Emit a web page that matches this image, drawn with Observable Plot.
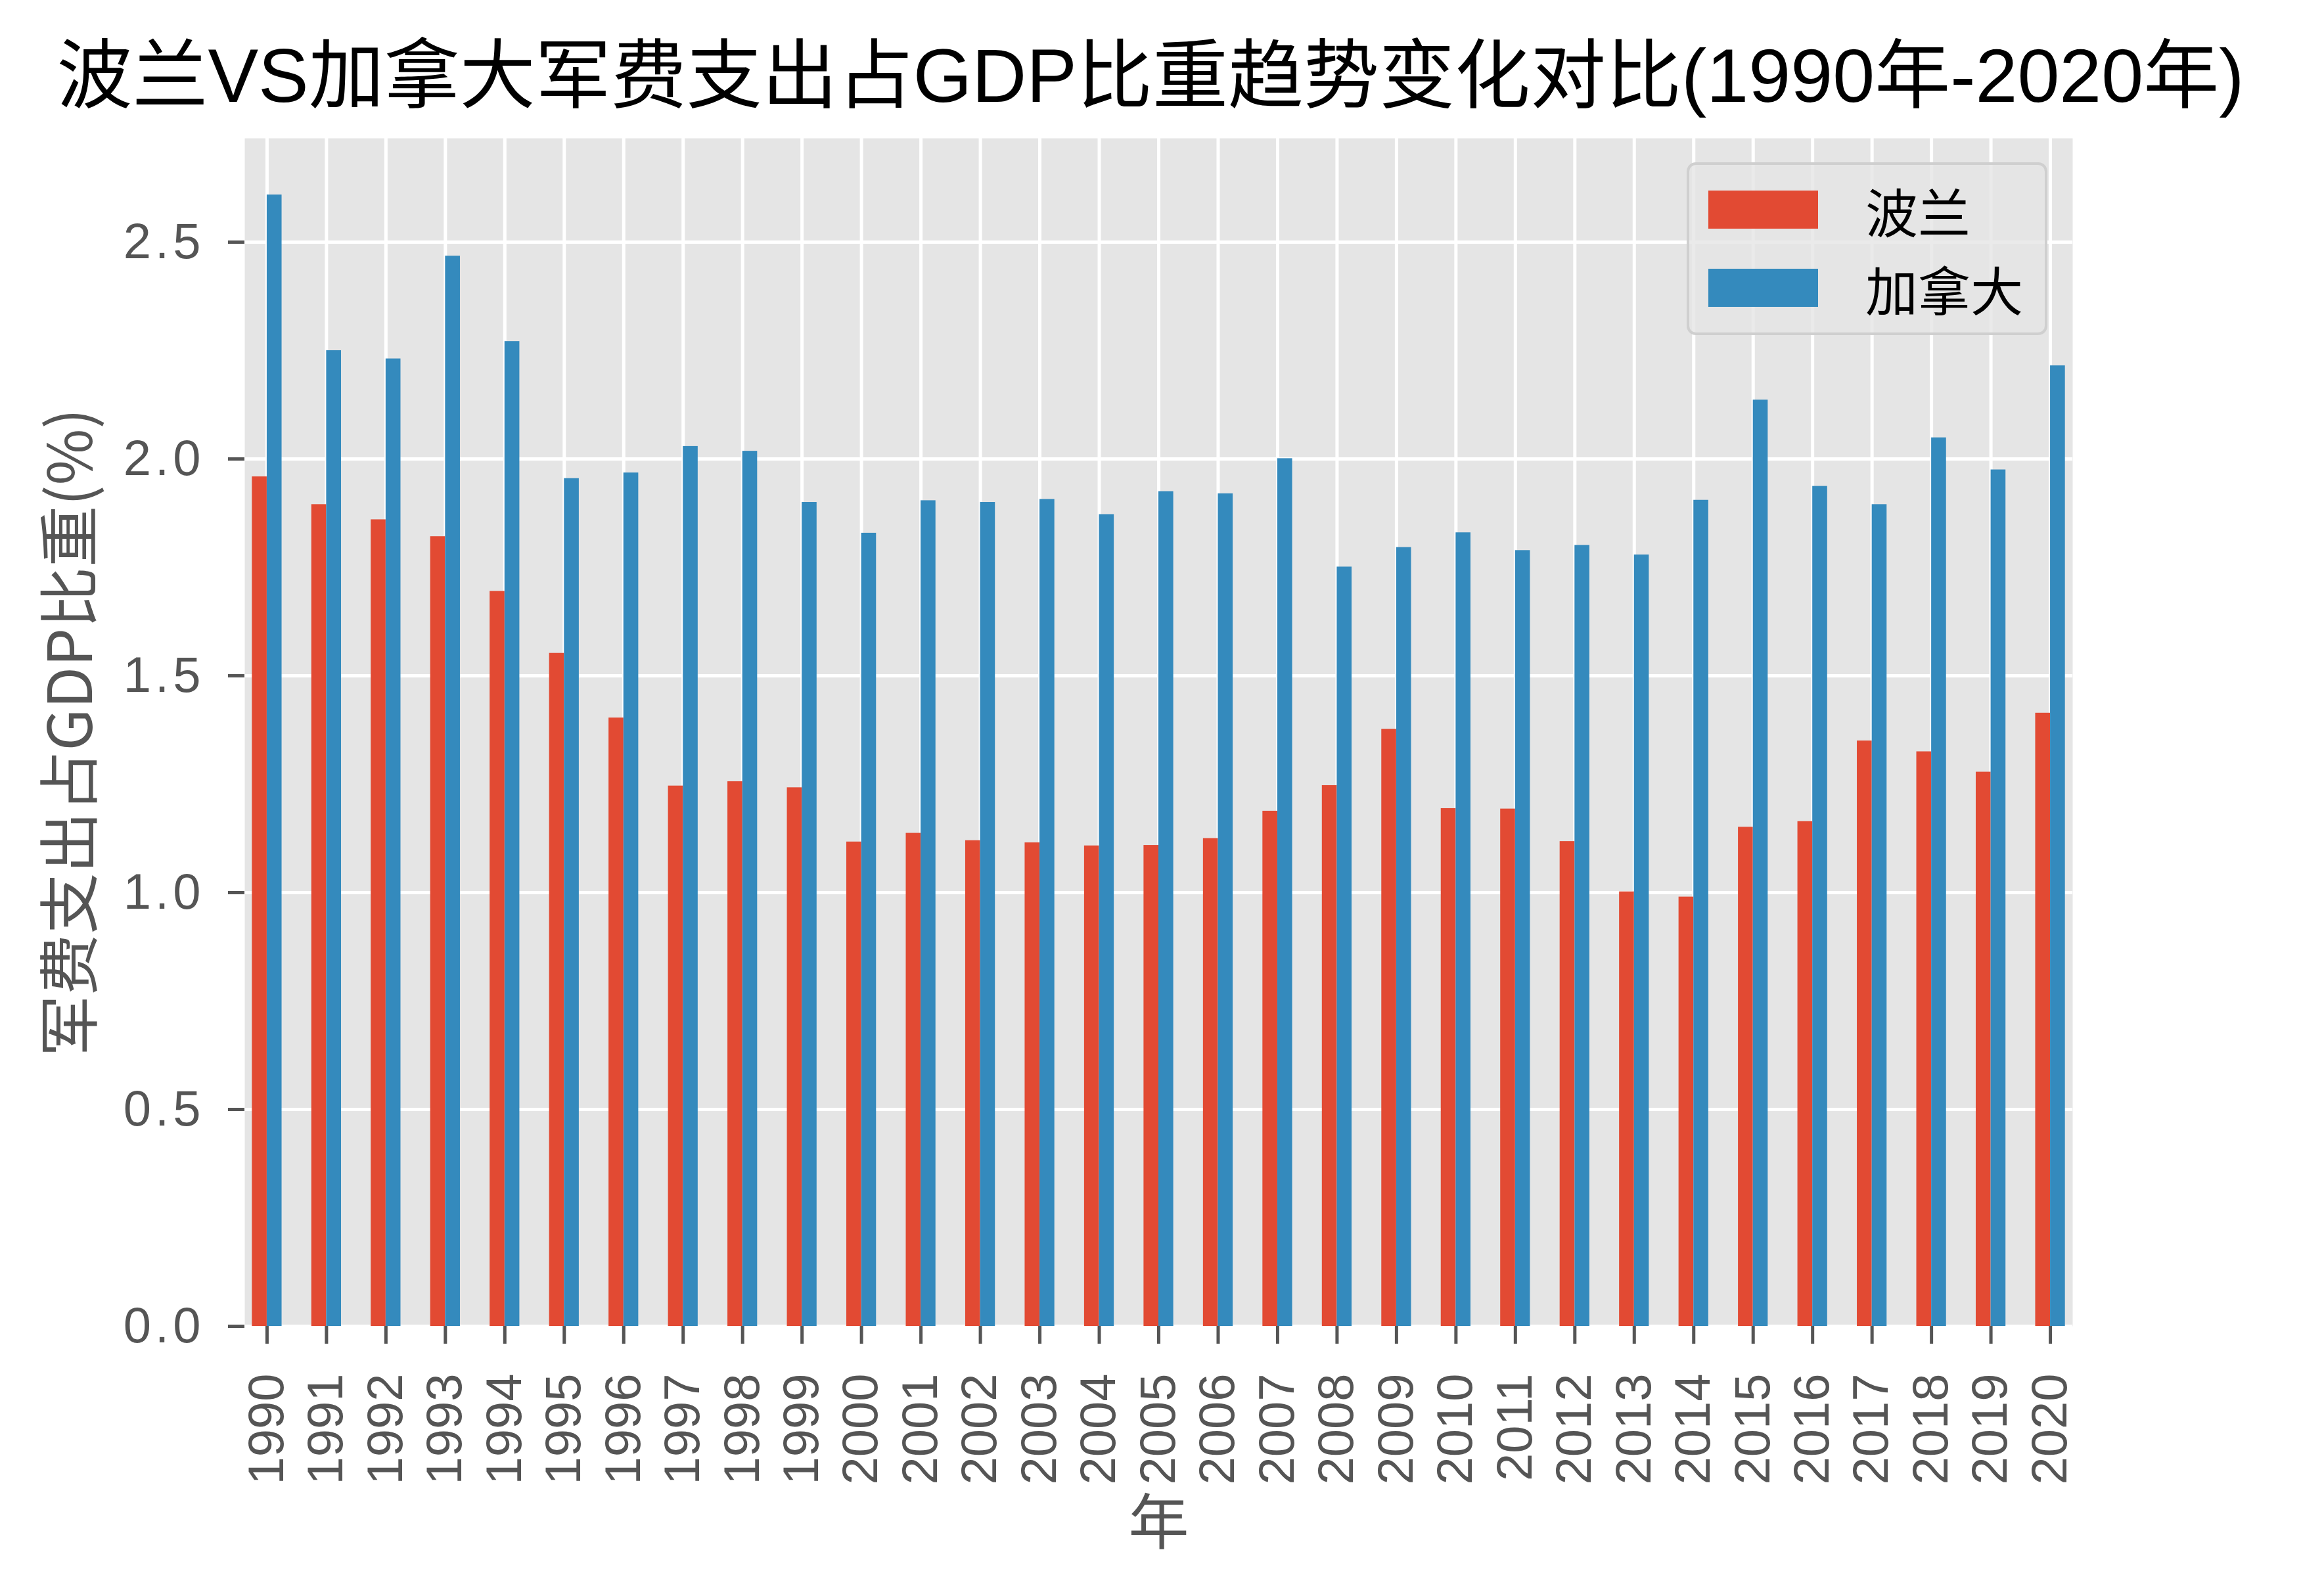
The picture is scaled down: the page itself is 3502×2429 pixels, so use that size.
<!DOCTYPE html>
<html>
<head>
<meta charset="utf-8">
<script src="https://cdn.jsdelivr.net/npm/d3@7"></script>
<script src="https://cdn.jsdelivr.net/npm/@observablehq/plot@0.6"></script>
<style>
  body { margin: 0; background: #ffffff; }
  #wrap { position: relative; width: 3502px; height: 2429px; overflow: hidden;
          font-family: "Liberation Sans", "Noto Sans CJK SC", sans-serif; }
  #title { position: absolute; left: 0; top: 52px; width: 3502px; text-align: center;
           font-size: 115px; line-height: 1.1; color: #000; white-space: nowrap; }
  #legend { position: absolute; left: 2567px; top: 247px; width: 549px; height: 263px;
            box-sizing: border-box; border: 4px solid #cfcfcf; border-radius: 14px;
            background: rgba(229,229,229,0.8); }
  .sw { position: absolute; left: 29px; width: 167px; height: 58px; }
  .lt { position: absolute; left: 268px; font-size: 80px; line-height: 80px; color: #000;
        font-family: "Noto Sans CJK SC", sans-serif; }
  .yax text { letter-spacing: 6px; }
</style>
</head>
<body>
<div id="wrap">
  <div id="chart"></div>
  <div id="title"></div>
  <div id="legend"></div>
</div>
<script>
// ---- data ----
const titleText = "波兰VS加拿大军费支出占GDP比重趋势变化对比(1990年-2020年)";
const yLabel = "军费支出占GDP比重(%)";
const xLabel = "年";
const seriesNames = ["波兰", "加拿大"];
const seriesColors = ["#E24A33", "#348ABD"];
const years = ["1990","1991","1992","1993","1994","1995","1996","1997","1998","1999",
               "2000","2001","2002","2003","2004","2005","2006","2007","2008","2009",
               "2010","2011","2012","2013","2014","2015","2016","2017","2018","2019","2020"];
const poland = [1.959, 1.895, 1.860, 1.821, 1.695, 1.552, 1.403, 1.246, 1.256, 1.242,
                1.117, 1.137, 1.120, 1.115, 1.108, 1.109, 1.125, 1.188, 1.247, 1.377,
                1.194, 1.193, 1.118, 1.002, 0.990, 1.151, 1.164, 1.350, 1.325, 1.278, 1.414];
const canada = [2.609, 2.250, 2.231, 2.468, 2.271, 1.955, 1.968, 2.029, 2.018, 1.900,
                1.829, 1.904, 1.900, 1.907, 1.872, 1.925, 1.920, 2.001, 1.751, 1.796,
                1.830, 1.789, 1.801, 1.779, 1.905, 2.136, 1.937, 1.895, 2.049, 1.975, 2.215];
const yTicks = [0, 0.5, 1.0, 1.5, 2.0, 2.5];

// ---- table ----
const table = years.map((y, i) => ({year: y, poland: poland[i], canada: canada[i]}));

// ---- layout ----
const W = 3502, H = 2429;
const mL = 372, mR = 348, mT = 210, mB = 411;
const padInner = 0.5, padOuter = 0.125;
const step = (W - mL - mR) / (years.length - padInner + 2 * padOuter);
const half = step * (1 - padInner) / 2;
const yMax = Math.max(...poland, ...canada) * 1.05;
const tickColor = "#555555";
const font = "\"Liberation Sans\", \"Noto Sans CJK SC\", sans-serif";
const cjk = "\"Noto Sans CJK SC\", sans-serif";

const chart = Plot.plot({
  width: W, height: H,
  marginLeft: mL, marginRight: mR, marginTop: mT, marginBottom: mB,
  style: {fontFamily: font, background: "white", overflow: "visible"},
  x: {type: "band", domain: years, paddingInner: padInner, paddingOuter: padOuter, align: 0.5, round: false},
  y: {domain: [0, yMax]},
  marks: [
    Plot.frame({fill: "#E5E5E5", stroke: null}),
    Plot.gridY({ticks: yTicks, stroke: "white", strokeOpacity: 1, strokeWidth: 5}),
    Plot.gridX({stroke: "white", strokeOpacity: 1, strokeWidth: 5}),
    Plot.barY(table, {x: "year", y: "poland", fill: seriesColors[0], insetRight: half, insetLeft: 0}),
    Plot.barY(table, {x: "year", y: "canada", fill: seriesColors[1], insetLeft: half, insetRight: 0}),
    Plot.axisY({ticks: yTicks, tickFormat: d => d.toFixed(1), tickSize: 25, tickPadding: 36,
                fontSize: 76, color: tickColor, strokeWidth: 5, label: null, className: "yax"}),
    Plot.axisX({tickRotate: -90, tickSize: 27, tickPadding: 45, fontSize: 76,
                color: tickColor, strokeWidth: 5, label: null}),
    Plot.text([yLabel], {text: d => d, frameAnchor: "left", textAnchor: "middle", lineAnchor: "middle",
                rotate: -90, dx: -262, fontSize: 93, fill: tickColor, fontFamily: cjk}),
    Plot.text([xLabel], {text: d => d, frameAnchor: "bottom", textAnchor: "middle", lineAnchor: "middle",
                dy: 302, fontSize: 92, fill: tickColor, fontFamily: cjk})
  ]
});
document.getElementById("chart").appendChild(chart);

// ---- title ----
document.getElementById("title").textContent = titleText;

// ---- legend ----
const legend = document.getElementById("legend");
seriesNames.forEach((name, i) => {
  const sw = document.createElement("div");
  sw.className = "sw";
  sw.style.top = (39 + i * 119) + "px";
  sw.style.background = seriesColors[i];
  legend.appendChild(sw);
  const lt = document.createElement("div");
  lt.className = "lt";
  lt.style.top = (28 + i * 119) + "px";
  lt.textContent = name;
  legend.appendChild(lt);
});
</script>
</body>
</html>
